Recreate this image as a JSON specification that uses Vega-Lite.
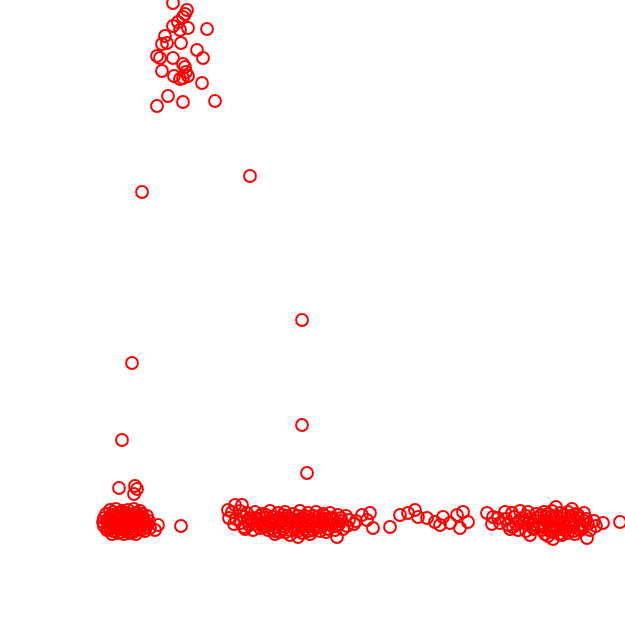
{
  "$schema": "https://vega.github.io/schema/vega-lite/v6.json",
  "width": 625,
  "height": 625,
  "padding": 0,
  "autosize": {"type": "none"},
  "config": {"view": {"stroke": null}},
  "data": {"values": [
    {"x":173,"y":3},{"x":187,"y":10},{"x":185,"y":14},{"x":183,"y":17},{"x":178,"y":22},{"x":207,"y":29},{"x":173,"y":26},{"x":180,"y":30},{"x":188,"y":28},{"x":165,"y":36},{"x":162,"y":44},{"x":167,"y":43},{"x":181,"y":43},{"x":197,"y":50},{"x":203,"y":58},{"x":157,"y":56},{"x":160,"y":58},{"x":173,"y":58},{"x":183,"y":64},{"x":185,"y":67},{"x":186,"y":72},{"x":162,"y":71},{"x":174,"y":76},{"x":180,"y":79},{"x":183,"y":78},{"x":188,"y":76},{"x":202,"y":83},{"x":168,"y":96},{"x":183,"y":102},{"x":157,"y":106},{"x":215,"y":101},
    {"x":250,"y":176},{"x":142,"y":192},{"x":302,"y":320},{"x":132,"y":363},{"x":302,"y":425},{"x":122,"y":440},{"x":307,"y":473},{"x":119,"y":488},{"x":135,"y":486},{"x":137,"y":489},{"x":134,"y":494},{"x":181,"y":526},{"x":158,"y":525},{"x":620,"y":522},
    {"x":110,"y":510},{"x":116,"y":509},{"x":122,"y":511},{"x":128,"y":510},{"x":134,"y":509},{"x":140,"y":511},
    {"x":106,"y":514},{"x":112,"y":515},{"x":118,"y":513},{"x":124,"y":514},{"x":130,"y":515},{"x":136,"y":513},{"x":142,"y":514},{"x":147,"y":516},
    {"x":104,"y":518},{"x":109,"y":519},{"x":114,"y":517},{"x":120,"y":518},{"x":126,"y":519},{"x":132,"y":518},{"x":138,"y":517},{"x":144,"y":519},{"x":149,"y":521},
    {"x":103,"y":522},{"x":108,"y":523},{"x":113,"y":521},{"x":119,"y":522},{"x":125,"y":523},{"x":131,"y":522},{"x":137,"y":521},{"x":143,"y":523},{"x":148,"y":524},
    {"x":104,"y":526},{"x":110,"y":527},{"x":116,"y":525},{"x":122,"y":526},{"x":128,"y":527},{"x":134,"y":526},{"x":140,"y":525},{"x":146,"y":527},
    {"x":107,"y":530},{"x":113,"y":531},{"x":119,"y":529},{"x":125,"y":530},{"x":131,"y":531},{"x":137,"y":530},{"x":143,"y":529},
    {"x":112,"y":534},{"x":118,"y":533},{"x":124,"y":534},{"x":130,"y":533},{"x":136,"y":534},{"x":150,"y":528},{"x":155,"y":530},{"x":145,"y":531},
    {"x":107,"y":520},{"x":111,"y":524},{"x":115,"y":528},{"x":121,"y":516},{"x":123,"y":520},{"x":127,"y":524},{"x":129,"y":528},{"x":133,"y":520},{"x":135,"y":524},{"x":139,"y":528},{"x":141,"y":519},{"x":145,"y":522},{"x":117,"y":520},{"x":113,"y":512},{"x":127,"y":513},{"x":139,"y":515},{"x":121,"y":532},{"x":133,"y":532},
    {"x":110,"y":518},{"x":116,"y":523},{"x":122,"y":529},{"x":128,"y":517},{"x":134,"y":529},{"x":141,"y":524},{"x":108,"y":528},{"x":125,"y":516},{"x":118,"y":526},{"x":130,"y":524},{"x":136,"y":518},
    {"x":235,"y":505},{"x":242,"y":505},{"x":228,"y":510},
    {"x":232,"y":512},{"x":240,"y":511},{"x":247,"y":513},{"x":255,"y":512},{"x":262,"y":514},{"x":270,"y":511},{"x":278,"y":513},{"x":285,"y":512},{"x":293,"y":514},{"x":300,"y":511},{"x":308,"y":513},{"x":316,"y":512},{"x":323,"y":514},{"x":330,"y":513},{"x":338,"y":515},{"x":346,"y":516},
    {"x":229,"y":518},{"x":236,"y":519},{"x":244,"y":517},{"x":251,"y":518},{"x":258,"y":520},{"x":266,"y":518},{"x":273,"y":517},{"x":281,"y":519},{"x":288,"y":518},{"x":296,"y":520},{"x":303,"y":518},{"x":311,"y":519},{"x":318,"y":517},{"x":326,"y":519},{"x":333,"y":520},{"x":341,"y":518},{"x":349,"y":520},{"x":356,"y":521},
    {"x":234,"y":524},{"x":241,"y":523},{"x":249,"y":525},{"x":256,"y":524},{"x":264,"y":523},{"x":271,"y":525},{"x":279,"y":524},{"x":286,"y":523},{"x":294,"y":525},{"x":301,"y":524},{"x":309,"y":526},{"x":316,"y":524},{"x":324,"y":523},{"x":331,"y":525},{"x":339,"y":524},{"x":347,"y":526},{"x":354,"y":524},
    {"x":245,"y":529},{"x":253,"y":530},{"x":260,"y":528},{"x":268,"y":530},{"x":275,"y":531},{"x":283,"y":529},{"x":290,"y":530},{"x":298,"y":531},{"x":305,"y":529},{"x":313,"y":530},{"x":320,"y":531},{"x":328,"y":529},{"x":335,"y":530},{"x":343,"y":529},
    {"x":275,"y":534},{"x":290,"y":535},{"x":298,"y":537},{"x":310,"y":534},{"x":337,"y":537},
    {"x":260,"y":516},{"x":268,"y":521},{"x":276,"y":527},{"x":283,"y":515},{"x":290,"y":521},{"x":297,"y":527},{"x":305,"y":516},{"x":312,"y":522},{"x":320,"y":527},{"x":264,"y":527},{"x":286,"y":532},{"x":302,"y":533},{"x":252,"y":521},{"x":275,"y":520},{"x":298,"y":516},{"x":322,"y":520},
    {"x":256,"y":518},{"x":261,"y":524},{"x":266,"y":515},{"x":271,"y":522},{"x":279,"y":518},{"x":282,"y":526},{"x":287,"y":516},{"x":293,"y":522},{"x":295,"y":530},{"x":299,"y":520},{"x":304,"y":526},{"x":307,"y":521},{"x":314,"y":516},{"x":316,"y":528},{"x":319,"y":522},{"x":325,"y":516},{"x":328,"y":524},{"x":332,"y":518},{"x":336,"y":526},{"x":340,"y":521},{"x":272,"y":529},{"x":280,"y":532},{"x":308,"y":531},{"x":326,"y":532},{"x":248,"y":521},{"x":244,"y":527},
    {"x":362,"y":515},{"x":367,"y":520},{"x":370,"y":513},{"x":373,"y":528},{"x":390,"y":527},{"x":400,"y":515},{"x":408,"y":513},{"x":415,"y":510},{"x":418,"y":517},{"x":427,"y":518},{"x":435,"y":522},{"x":440,"y":525},{"x":443,"y":517},{"x":450,"y":523},{"x":457,"y":515},{"x":463,"y":512},{"x":468,"y":522},{"x":460,"y":528},
    {"x":487,"y":513},{"x":493,"y":517},{"x":556,"y":507},{"x":572,"y":509},
    {"x":505,"y":512},{"x":512,"y":513},{"x":520,"y":511},{"x":528,"y":512},{"x":536,"y":514},{"x":544,"y":512},{"x":552,"y":511},{"x":560,"y":513},{"x":568,"y":512},{"x":576,"y":514},{"x":584,"y":513},
    {"x":498,"y":518},{"x":506,"y":519},{"x":514,"y":517},{"x":522,"y":518},{"x":530,"y":519},{"x":538,"y":518},{"x":546,"y":517},{"x":554,"y":519},{"x":562,"y":518},{"x":570,"y":520},{"x":578,"y":518},{"x":586,"y":519},{"x":594,"y":521},
    {"x":492,"y":524},{"x":500,"y":523},{"x":508,"y":525},{"x":516,"y":524},{"x":524,"y":523},{"x":532,"y":525},{"x":540,"y":524},{"x":548,"y":523},{"x":556,"y":525},{"x":564,"y":524},{"x":572,"y":523},{"x":580,"y":525},{"x":588,"y":524},{"x":596,"y":526},{"x":603,"y":523},
    {"x":510,"y":529},{"x":518,"y":530},{"x":526,"y":531},{"x":534,"y":529},{"x":542,"y":530},{"x":550,"y":531},{"x":558,"y":529},{"x":566,"y":530},{"x":574,"y":531},{"x":582,"y":529},{"x":590,"y":530},
    {"x":530,"y":535},{"x":545,"y":534},{"x":553,"y":539},{"x":562,"y":535},{"x":575,"y":534},{"x":587,"y":538},
    {"x":544,"y":520},{"x":550,"y":526},{"x":556,"y":516},{"x":560,"y":522},{"x":566,"y":527},{"x":571,"y":516},{"x":576,"y":521},{"x":553,"y":532},{"x":568,"y":533},{"x":538,"y":527},{"x":582,"y":526},{"x":548,"y":514},
    {"x":526,"y":516},{"x":529,"y":522},{"x":533,"y":528},{"x":541,"y":515},{"x":543,"y":527},{"x":547,"y":521},{"x":552,"y":516},{"x":554,"y":528},{"x":558,"y":521},{"x":562,"y":529},{"x":564,"y":515},{"x":569,"y":523},{"x":573,"y":527},{"x":578,"y":515},{"x":580,"y":530},{"x":584,"y":521},{"x":519,"y":521},{"x":513,"y":527},{"x":535,"y":521},{"x":559,"y":534},{"x":548,"y":536}
  ]},
  "mark": {"type": "point", "shape": "circle", "filled": false, "color": "#ff0000", "strokeWidth": 2, "size": 140, "opacity": 1},
  "encoding": {
    "x": {"field": "x", "type": "quantitative", "scale": {"domain": [0, 625], "nice": false, "zero": false}, "axis": null},
    "y": {"field": "y", "type": "quantitative", "scale": {"domain": [0, 625], "nice": false, "zero": false, "reverse": true}, "axis": null}
  }
}
